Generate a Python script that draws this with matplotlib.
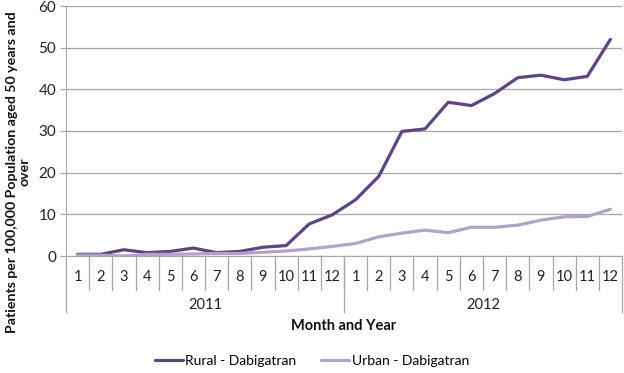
import matplotlib.pyplot as plt
import numpy as np

months = [str(m) for m in range(1, 13)] * 2
years = ['2011', '2012']
rural = [0.4, 0.4, 1.5, 0.8, 1.1, 1.9, 0.8, 1.1, 2.1, 2.5, 7.7, 9.9,
         13.5, 19.1, 29.9, 30.5, 36.9, 36.1, 39.0, 42.8, 43.4, 42.3, 43.1, 52.0]
urban = [0.2, 0.2, 0.0, 0.4, 0.4, 0.5, 0.6, 0.6, 0.9, 1.2, 1.7, 2.3,
         3.0, 4.6, 5.5, 6.2, 5.6, 6.9, 6.9, 7.4, 8.6, 9.4, 9.5, 11.2]

plt.rcParams['font.family'] = ['Lato', 'DejaVu Sans']
grid_col = '#A6A6A6'

fig = plt.figure(figsize=(6.24, 3.73), dpi=100)
ax = fig.add_axes([66 / 624, 1 - 256 / 373, 556 / 624, 250 / 373])

x = np.arange(len(months))
ax.plot(x, rural, color='#5C4580', lw=2.3, label='Rural - Dabigatran', solid_capstyle='round')
ax.plot(x, urban, color='#B3A2C7', lw=2.3, label='Urban - Dabigatran', solid_capstyle='round')

ax.set_xlim(-0.5, len(months) - 0.5)
ax.set_ylim(0, 60)
ax.set_yticks(range(0, 61, 10))
ax.yaxis.grid(True, color=grid_col, lw=0.9)
ax.set_axisbelow(True)
ax.set_xticks([])
for s in ['top', 'right']:
    ax.spines[s].set_visible(False)
ax.spines['left'].set_color(grid_col)
ax.spines['bottom'].set_color(grid_col)
ax.tick_params(axis='y', length=4, color=grid_col, labelsize=11, labelcolor='#222222', pad=3)

# category axis: months and years with separators
tr = ax.get_xaxis_transform()
for i, m in enumerate(months):
    ax.text(i, -0.084, m, transform=tr, ha='center', va='center', fontsize=10.5, color='#222222')
for b in range(1, len(months)):
    ax.plot([b - 0.5, b - 0.5], [0, -0.136], transform=tr, color=grid_col, lw=0.9, clip_on=False)
for k, yr in enumerate(years):
    ax.text(k * 12 + 5.5, -0.196, yr, transform=tr, ha='center', va='center', fontsize=10.5, color='#222222')
for b in [0, 12, 24]:
    ax.plot([b - 0.5, b - 0.5], [0, -0.224], transform=tr, color=grid_col, lw=0.9, clip_on=False)
ax.text(11.5, -0.28, 'Month and Year', transform=tr, ha='center', va='center',
        fontsize=10.5, fontweight='bold', color='#111111')

ylab = fig.text(0.029, 1 - 172 / 373, 'Patients per 100,000 Population aged 50 years and\nover',
                rotation=90, ha='center', va='center', fontsize=10, fontweight='bold',
                family=['Liberation Sans Narrow', 'Lato'],
                color='#111111', linespacing=1.05)
# fit the long label to the same length as in the original (about 323 px)
r = fig.canvas.get_renderer()
h = ylab.get_window_extent(r).height
ylab.set_fontsize(10 * 323 / h)

fig.legend(loc='center', bbox_to_anchor=(0.5, 1 - 361 / 373), ncol=2, frameon=False,
           fontsize=10, handlelength=2.0, handletextpad=0.2, columnspacing=1.8)

plt.savefig('out.png', dpi=100)
plt.close()
